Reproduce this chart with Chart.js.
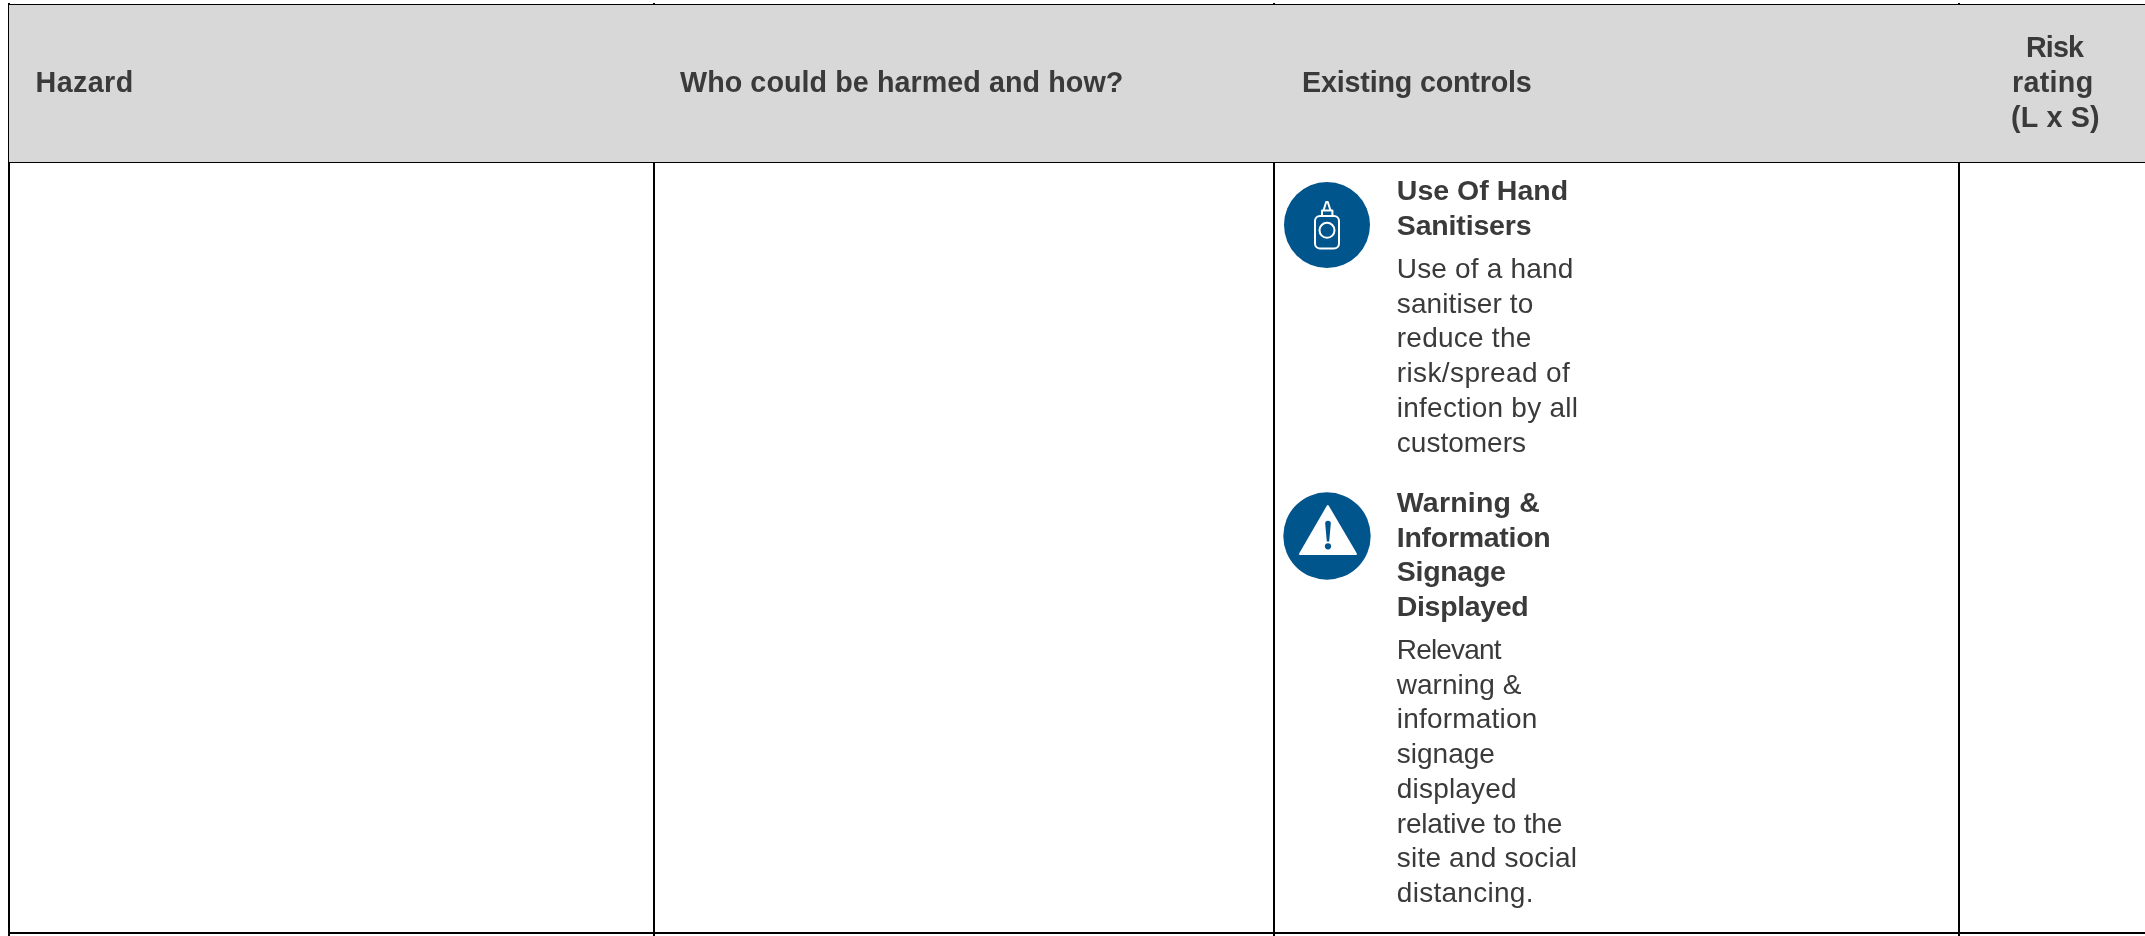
<!DOCTYPE html>
<html><head><meta charset="utf-8">
<style>html,body{margin:0;padding:0;background:#fff;overflow:hidden}canvas{display:block}</style>
<script src="https://cdn.jsdelivr.net/npm/chart.js@4"></script>
</head><body><canvas id="c" width="2145" height="936"></canvas>
<script>
const columnHeaders = ["Hazard", "Who could be harmed and how?", "Existing controls"];
const riskHeaderLines = ["Risk", "rating", "(L x S)"];
const control1Title = ["Use Of Hand", "Sanitisers"];
const control1Body = ["Use of a hand", "sanitiser to", "reduce the", "risk/spread of", "infection by all", "customers"];
const control2Title = ["Warning &", "Information", "Signage", "Displayed"];
const control2Body = ["Relevant", "warning &", "information", "signage", "displayed", "relative to the", "site and social", "distancing."];
const columnEdges = [9, 654, 1274, 1959];
const rowEdges = [5, 162, 933];

// layout of the text: right ink edge of each line, so line lengths follow the reference
const headerX = [35.5, 680, 1302], headerEnd = [131.7, 1121.8, 1530.8];
const riskBase = [57.3, 91.7, 126.7], riskLeft = [2027, 2013, 2012], riskEnd = [2084, 2091.7, 2099];
const title1End = [1566.7, 1530.7], body1End = [1571.7, 1532.7, 1530.7, 1570, 1576.7, 1525];
const title2End = [1539.3, 1549.3, 1505, 1527.3];
const body2End = [1501.7, 1521.7, 1535.7, 1494.3, 1515, 1561.7, 1575.7, 1531.7];

const INK = "#3a3a3a", BLUE = "#00558c", BAND = "#d8d8d8", FONT = '"Liberation Sans", Arial, sans-serif';
const HEAD = "bold 28.7px " + FONT, TITLE = "bold 28.5px " + FONT, BODY = "28px " + FONT;

const tablePlugin = {
  id: "table",
  afterDatasetsDraw(chart) {
    const { ctx, scales: { x, y } } = chart;
    const X = v => x.getPixelForValue(v), Y = v => y.getPixelForValue(v);
    // draw a line from pen position px so that its ink ends at xEnd
    const fit = (s, px, py, font, xEnd) => {
      ctx.font = font; ctx.textAlign = "left"; ctx.textBaseline = "alphabetic"; ctx.fillStyle = INK;
      ctx.letterSpacing = "0px";
      const right = ctx.measureText(s).actualBoundingBoxRight;
      ctx.letterSpacing = ((xEnd - px - right) / (s.length - 1)).toFixed(3) + "px";
      ctx.fillText(s, X(px), Y(py));
      ctx.letterSpacing = "0px";
    };
    ctx.save();
    columnHeaders.forEach((h, i) => fit(h, headerX[i], 91.7, HEAD, headerEnd[i]));
    riskHeaderLines.forEach((h, i) => {
      ctx.font = HEAD; ctx.letterSpacing = "0px";
      const m = ctx.measureText(h);
      fit(h, riskLeft[i] + m.actualBoundingBoxLeft, riskBase[i], HEAD, riskEnd[i]);
    });
    const block = (lines, ends, top, step, font) => lines.forEach((l, i) => fit(l, 1396.8, top + i * step, font, ends[i]));
    block(control1Title, title1End, 200, 35, TITLE);
    block(control1Body, body1End, 278, 34.7, BODY);
    block(control2Title, title2End, 512, 34.5, TITLE);
    block(control2Body, body2End, 659, 34.7, BODY);

    // bottle glyph
    ctx.strokeStyle = "#fff"; ctx.lineWidth = 2; ctx.lineJoin = "round";
    ctx.beginPath(); ctx.roundRect(X(1315), Y(216), 24, 32.5, 5); ctx.stroke();
    ctx.beginPath(); ctx.arc(X(1327), Y(230.3), 7.5, 0, Math.PI * 2); ctx.stroke();
    ctx.beginPath(); ctx.rect(X(1322), Y(210.5), 10.4, 5.5); ctx.stroke();
    ctx.beginPath(); ctx.moveTo(X(1323.5), Y(210.5)); ctx.lineTo(X(1326.2), Y(202)); ctx.lineTo(X(1327.8), Y(202)); ctx.lineTo(X(1330.5), Y(210.5)); ctx.stroke();

    // warning glyph
    ctx.fillStyle = "#fff"; ctx.strokeStyle = "#fff"; ctx.lineWidth = 2;
    ctx.beginPath(); ctx.moveTo(X(1327.8), Y(506)); ctx.lineTo(X(1356), Y(554)); ctx.lineTo(X(1300), Y(554)); ctx.closePath(); ctx.fill(); ctx.stroke();
    ctx.fillStyle = BLUE;
    ctx.beginPath(); ctx.arc(X(1328), Y(523.6), 2.8, Math.PI, 0);
    ctx.lineTo(X(1329.2), Y(541.5)); ctx.lineTo(X(1326.8), Y(541.5)); ctx.closePath(); ctx.fill();
    ctx.beginPath(); ctx.arc(X(1328), Y(546.3), 3.1, 0, Math.PI * 2); ctx.fill();
    ctx.restore();
  }
};

const rule = () => ({ color: "#000", lineWidth: 2, drawTicks: false, tickLength: 0, drawOnChartArea: true });
new Chart(document.getElementById("c"), {
  type: "line",
  data: {
    datasets: [
      { label: "Header band", data: [{ x: columnEdges[0], y: rowEdges[1] }, { x: 2145, y: rowEdges[1] }],
        fill: { value: rowEdges[0] }, backgroundColor: BAND, borderWidth: 0, pointRadius: 0, order: 2 },
      { label: "Hand sanitiser icon", data: [{ x: 1327, y: 225 }], showLine: false, pointStyle: "circle",
        pointRadius: 43, pointBackgroundColor: BLUE, pointBorderWidth: 0, order: 1 },
      { label: "Warning icon", data: [{ x: 1327, y: 536 }], showLine: false, pointStyle: "circle",
        pointRadius: 43.7, pointBackgroundColor: BLUE, pointBorderWidth: 0, order: 1 }
    ]
  },
  options: {
    responsive: false, animation: false, clip: false,
    layout: { autoPadding: false, padding: { left: 8, top: 3, right: 0, bottom: 0 } },
    plugins: { legend: { display: false }, tooltip: { enabled: false }, title: { display: false } },
    scales: {
      x: { type: "linear", min: 8, max: 2145, border: { display: false }, grid: rule(),
           ticks: { display: false }, afterBuildTicks: s => { s.ticks = columnEdges.map(value => ({ value })); } },
      y: { type: "linear", reverse: true, min: 3, max: 936, border: { display: false }, grid: rule(),
           ticks: { display: false }, afterBuildTicks: s => { s.ticks = rowEdges.map(value => ({ value })); } }
    }
  },
  plugins: [tablePlugin]
});
</script></body></html>
